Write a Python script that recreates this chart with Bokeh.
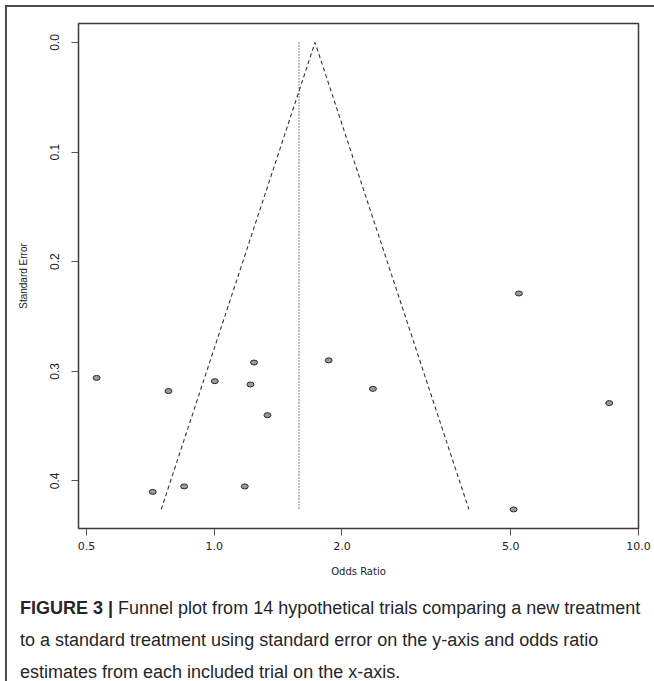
import math
from bokeh.plotting import figure
from bokeh.models import Range1d, FixedTicker, CustomJSTickFormatter, Div, ColumnDataSource
from bokeh.layouts import column
from bokeh.embed import file_html
from bokeh.resources import INLINE

# ---- data ----
odds_ratio = [0.528, 0.780, 0.716, 0.849, 1.003, 1.180, 1.217, 1.241, 1.335, 1.861, 2.366, 5.224, 5.077, 8.53]
std_error = [0.306, 0.318, 0.410, 0.405, 0.309, 0.405, 0.312, 0.292, 0.340, 0.290, 0.316, 0.229, 0.426, 0.329]
funnel_center = 1.728   # apex of the pseudo-confidence funnel
summary_or = 1.584      # vertical reference line
x_ticks = [0.5, 1.0, 2.0, 5.0, 10.0]
y_ticks = [0.0, 0.1, 0.2, 0.3, 0.4]
x_label = "Odds Ratio"
y_label = "Standard Error"
caption_bold = "FIGURE 3 |"
caption_lines = [
    "Funnel plot from 14 hypothetical trials comparing a new treatment",
    "to a standard treatment using standard error on the y-axis and odds ratio",
    "estimates from each included trial on the x-axis.",
]

# funnel (95% pseudo-confidence limits) from centre and largest SE
se_max = max(std_error)
z = 1.96
funnel_x = [math.exp(math.log(funnel_center) - z * se_max), funnel_center,
            math.exp(math.log(funnel_center) + z * se_max)]
funnel_y = [se_max, 0.0, se_max]

p = figure(width=647, height=580, x_axis_type="log",
           x_range=Range1d(0.4786, 10.0), y_range=Range1d(0.4434, -0.0173),
           output_backend="svg", toolbar_location=None,
           min_border_left=71, min_border_right=16, min_border_top=16, min_border_bottom=59)

p.xgrid.visible = False
p.ygrid.visible = False
p.outline_line_color = "#3a3a3a"
p.outline_line_width = 1.5
p.background_fill_color = "white"
p.border_fill_color = "white"

# reference lines
p.line(funnel_x, funnel_y, line_color="#333333", line_width=1.1, line_dash="4 3")
p.line([summary_or, summary_or], [0.0, se_max], line_color="#111111", line_width=1.0, line_dash="1 2")

src = ColumnDataSource(dict(x=odds_ratio, y=std_error))
p.ellipse(x="x", y="y", width=7, height=5, width_units="screen", height_units="screen",
          source=src, fill_color="#9a9a9a", line_color="#2a2a2a", line_width=1)

fmt = CustomJSTickFormatter(code="return tick.toFixed(1);")

xa = p.xaxis[0]
xa.ticker = FixedTicker(ticks=x_ticks, minor_ticks=[])
xa.formatter = fmt
xa.axis_line_color = None
xa.major_tick_out = 7
xa.major_tick_in = 0
xa.minor_tick_out = 0
xa.minor_tick_in = 0
xa.major_tick_line_color = "#555555"
xa.major_label_text_font = "DejaVu Sans"
xa.major_label_text_font_size = "11px"
xa.major_label_text_color = "#222222"
xa.major_label_standoff = 6
xa.axis_label = x_label
xa.axis_label_text_font = "DejaVu Sans"
xa.axis_label_text_font_size = "10px"
xa.axis_label_text_font_style = "normal"
xa.axis_label_text_color = "#222222"
xa.axis_label_standoff = 13

ya = p.yaxis[0]
ya.ticker = FixedTicker(ticks=y_ticks, minor_ticks=[])
ya.formatter = fmt
ya.axis_line_color = None
ya.major_tick_out = 7
ya.major_tick_in = 0
ya.minor_tick_out = 0
ya.minor_tick_in = 0
ya.major_tick_line_color = "#555555"
ya.major_label_orientation = "vertical"
ya.major_label_text_font = "Liberation Sans"
ya.major_label_text_font_size = "12px"
ya.major_label_text_color = "#222222"
ya.major_label_standoff = 12
ya.axis_label = y_label
ya.axis_label_text_font = "Liberation Sans"
ya.axis_label_text_font_size = "10px"
ya.axis_label_text_font_style = "normal"
ya.axis_label_text_color = "#222222"
ya.axis_label_standoff = 19

line_style = 'style="line-height:18px;margin:0 0 14px 0;white-space:nowrap"'
parts = []
for i, t in enumerate(caption_lines):
    prefix = "<b>" + caption_bold + "</b> " if i == 0 else ""
    parts.append("<div " + line_style + ">" + prefix + t + "</div>")
cap = Div(text="".join(parts), width=645, height=88,
          styles={"font-family": "Liberation Sans", "font-size": "18px",
                  "color": "#262626", "padding-left": "8px", "padding-top": "7px",
                  "box-sizing": "border-box"})

layout = column(p, cap, spacing=0,
                styles={"border-top": "2px solid #4d4d4d", "border-left": "2px solid #4d4d4d"},
                margin=(5, 0, 0, 5))

open("out.html", "w").write(file_html(layout, INLINE))
